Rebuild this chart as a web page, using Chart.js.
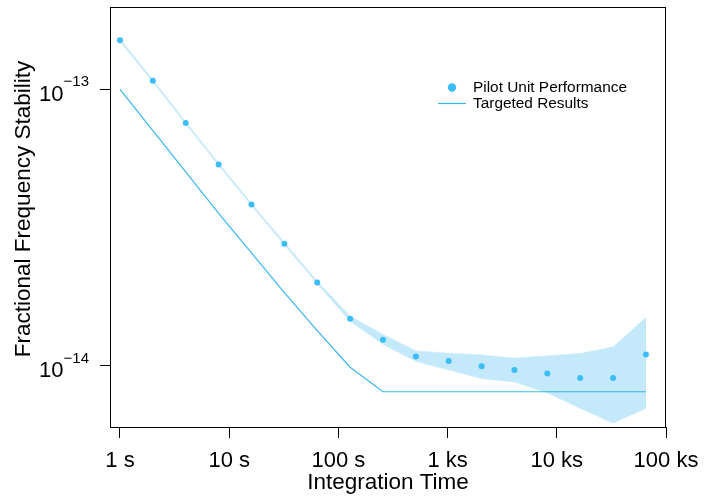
<!DOCTYPE html>
<html>
<head>
<meta charset="utf-8">
<script src="https://cdn.jsdelivr.net/npm/chart.js@4.4.1/dist/chart.umd.min.js"></script>
<style>
  html, body { margin: 0; padding: 0; background: #fff; }
  #wrap { width: 715px; height: 504px; }
</style>
</head>
<body>
<div id="wrap"><canvas id="adevChart" width="715" height="504"></canvas></div>
<script>
// Tempos de integração (s) e desvios medidos
const tauSeconds = [1, 2, 4, 8, 16, 32, 64, 128, 256, 512, 1024, 2048, 4096, 8192, 16384, 32768, 65536];
const pilotAdev  = [1.506e-13, 1.074e-13, 7.55e-14, 5.35e-14, 3.83e-14, 2.76e-14, 2.00e-14, 1.479e-14, 1.241e-14,
                    1.080e-14, 1.039e-14, 9.95e-15, 9.65e-15, 9.37e-15, 9.02e-15, 9.02e-15, 1.098e-14];
const pilotUpper = [1.52e-13, 1.083e-13, 7.61e-14, 5.40e-14, 3.86e-14, 2.79e-14, 2.02e-14, 1.51e-14, 1.297e-14,
                    1.131e-14, 1.110e-14, 1.094e-14, 1.065e-14, 1.085e-14, 1.107e-14, 1.169e-14, 1.494e-14];
const pilotLower = [1.49e-13, 1.065e-13, 7.49e-14, 5.31e-14, 3.80e-14, 2.74e-14, 1.98e-14, 1.45e-14, 1.195e-14,
                    1.037e-14, 9.65e-15, 8.99e-15, 8.73e-15, 7.98e-15, 7.01e-15, 6.20e-15, 7.01e-15];
const targetAdev = [1.0e-13, 7.09e-14, 5.03e-14, 3.56e-14, 2.56e-14, 1.84e-14, 1.34e-14, 9.87e-15, 8.05e-15,
                    8.05e-15, 8.05e-15, 8.05e-15, 8.05e-15, 8.05e-15, 8.05e-15, 8.05e-15, 8.05e-15];

const xTickValues = [1, 10, 100, 1000, 10000, 100000];
const xTickLabels = ['1 s', '10 s', '100 s', '1 ks', '10 ks', '100 ks'];
const yTickValues = [1e-13, 1e-14];
const yTickExponents = ['\u221213', '\u221214'];
const yTitle = 'Fractional Frequency Stability';

const FONT = "'Liberation Sans', Arial, Helvetica, sans-serif";
const pointColor = '#3dbdf7';
const lineColor = '#3ab6ee';
const bandColor = 'rgb(196, 233, 250)';

const toXY = (ys) => tauSeconds.map((t, i) => ({ x: t, y: ys[i] }));

// Moldura, rótulos 10^n, título do eixo y e legenda desenhados à mão
const framePlugin = {
  id: 'frameAndLabels',
  afterDraw(chart) {
    const { ctx, chartArea: a } = chart;
    ctx.save();
    ctx.strokeStyle = '#000';
    ctx.lineWidth = 1;
    ctx.strokeRect(Math.round(a.left) + 0.5, Math.round(a.top) + 0.5,
      Math.round(a.right - a.left) - 1, Math.round(a.bottom - a.top));

    // rótulos do eixo y
    const ys = chart.scales.y;
    ctx.fillStyle = '#000';
    ctx.textAlign = 'left';
    ctx.textBaseline = 'alphabetic';
    yTickValues.forEach((v, i) => {
      const py = ys.getPixelForValue(v);
      ctx.font = `22px ${FONT}`;
      const baseW = ctx.measureText('10').width;
      ctx.font = `15px ${FONT}`;
      const supW = ctx.measureText(yTickExponents[i]).width;
      const x0 = 89 - supW - baseW;
      ctx.font = `22px ${FONT}`;
      ctx.fillText('10', x0, py + 11.5);
      ctx.font = `15px ${FONT}`;
      ctx.fillText(yTickExponents[i], x0 + baseW, py - 3);
    });

    // título do eixo y
    ctx.save();
    ctx.translate(24, 209);
    ctx.rotate(-Math.PI / 2);
    ctx.textAlign = 'center';
    ctx.textBaseline = 'middle';
    ctx.font = `22.5px ${FONT}`;
    ctx.fillText(yTitle, 0, 0);
    ctx.restore();

    // legenda
    const pilot = chart.data.datasets.find(d => d.id === 'pilot');
    const target = chart.data.datasets.find(d => d.id === 'target');
    ctx.fillStyle = pointColor;
    ctx.beginPath();
    ctx.arc(452, 87.5, 4.2, 0, Math.PI * 2);
    ctx.fill();
    ctx.strokeStyle = lineColor;
    ctx.lineWidth = 1.2;
    ctx.beginPath();
    ctx.moveTo(438, 103.5);
    ctx.lineTo(466, 103.5);
    ctx.stroke();
    ctx.fillStyle = '#000';
    ctx.font = `15.4px ${FONT}`;
    ctx.textBaseline = 'middle';
    ctx.fillText(pilot.label, 473, 87.5);
    ctx.fillText(target.label, 473, 104);
    ctx.restore();
  }
};

const ctx = document.getElementById('adevChart').getContext('2d');
window._adevChart = new Chart(ctx, {
  type: 'line',
  data: {
    datasets: [
      {
        id: 'pilot',
        label: 'Pilot Unit Performance',
        data: toXY(pilotAdev),
        showLine: false,
        pointRadius: 3,
        pointBackgroundColor: pointColor,
        pointBorderWidth: 0,
        order: 0
      },
      {
        id: 'target',
        label: 'Targeted Results',
        data: toXY(targetAdev),
        borderColor: lineColor,
        borderWidth: 1.2,
        pointRadius: 0,
        tension: 0,
        order: 1
      },
      {
        id: 'upper',
        label: 'upper',
        data: toXY(pilotUpper),
        borderColor: bandColor,
        borderWidth: 0.6,
        pointRadius: 0,
        fill: '+1',
        backgroundColor: bandColor,
        order: 2
      },
      {
        id: 'lower',
        label: 'lower',
        data: toXY(pilotLower),
        borderColor: bandColor,
        borderWidth: 0.6,
        pointRadius: 0,
        fill: false,
        order: 3
      }
    ]
  },
  options: {
    responsive: false,
    devicePixelRatio: 1,
    animation: false,
    layout: { padding: { top: 7, right: 49, left: 0, bottom: 0 } },
    plugins: { legend: { display: false }, tooltip: { enabled: false } },
    scales: {
      x: {
        type: 'logarithmic',
        min: 0.81,
        max: 100000,
        afterBuildTicks: (scale) => { scale.ticks = xTickValues.map(v => ({ value: v })); },
        afterFit: (scale) => { scale.height = 77; },
        ticks: {
          autoSkip: false,
          maxRotation: 0,
          padding: 10,
          color: '#000',
          font: { family: FONT, size: 22 },
          callback: (v) => xTickLabels[xTickValues.indexOf(v)] ?? ''
        },
        grid: { drawOnChartArea: false, drawTicks: true, tickLength: 11, color: '#000', lineWidth: 1 },
        border: { display: true, color: '#000', width: 1 },
        title: {
          display: true,
          text: 'Integration Time',
          color: '#000',
          font: { family: FONT, size: 22.5 },
          padding: { top: 0, bottom: 8 }
        }
      },
      y: {
        type: 'logarithmic',
        min: 6.36e-15,
        max: 1.986e-13,
        afterBuildTicks: (scale) => { scale.ticks = yTickValues.map(v => ({ value: v })); },
        afterFit: (scale) => { scale.width = 110; },
        ticks: { display: false },
        grid: { drawOnChartArea: false, drawTicks: true, tickLength: 10, color: '#000', lineWidth: 1 },
        border: { display: true, color: '#000', width: 1 }
      }
    }
  },
  plugins: [framePlugin]
});
</script>
</body>
</html>
